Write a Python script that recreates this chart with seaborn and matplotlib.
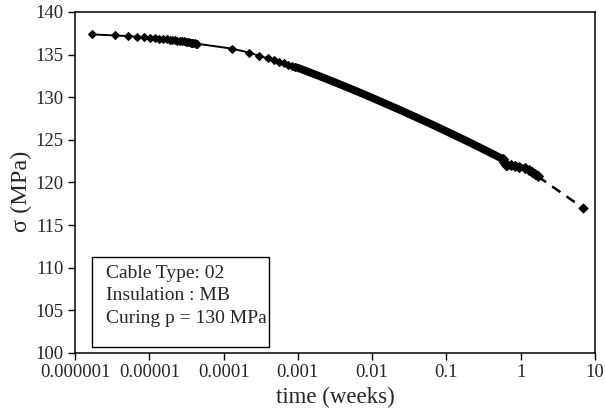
import matplotlib
matplotlib.use("Agg")
import matplotlib.pyplot as plt
import seaborn as sns
import pandas as pd
from matplotlib.ticker import FixedLocator, FixedFormatter, NullLocator
from matplotlib.patches import Rectangle

# early samples (about one per second), time in weeks / stress in MPa
t_early = [1.71e-6, 3.42e-6, 5.13e-6, 6.84e-6, 8.55e-6, 1.03e-5, 1.20e-5, 1.37e-5,
           1.54e-5, 1.71e-5, 1.88e-5, 2.05e-5, 2.22e-5, 2.39e-5, 2.57e-5, 2.74e-5,
           2.91e-5, 3.08e-5, 3.25e-5, 3.42e-5, 3.59e-5, 3.76e-5, 3.93e-5, 4.10e-5,
           4.27e-5, 4.45e-5]
s_early = [137.37, 137.25, 137.17, 137.10, 137.04, 136.98, 136.93, 136.89,
           136.85, 136.81, 136.77, 136.73, 136.69, 136.65, 136.62, 136.58,
           136.55, 136.51, 136.48, 136.45, 136.42, 136.39, 136.36, 136.33,
           136.30, 136.27]

# sparse later samples
t_mid = [1.31e-4, 2.20e-4, 3.02e-4, 3.92e-4, 4.77e-4, 5.65e-4, 6.50e-4, 7.40e-4, 8.30e-4, 9.20e-4]
s_mid = [135.70, 135.24, 134.85, 134.57, 134.34, 134.14, 133.96, 133.80, 133.66, 133.52]

# dense band of samples
t_dense = [9.20e-4, 1.0e-3, 2.0e-3, 3.0e-3, 5.0e-3, 8.4e-3, 0.0237, 0.066, 0.178, 0.30, 0.525, 0.57]
s_dense = [133.52, 133.45, 132.44, 131.83, 131.04, 130.22, 128.51, 126.75, 124.96, 123.99, 122.92, 122.78]

# scatter cluster near 1 week
t_clus = [0.57, 0.60, 0.63, 0.66, 0.74, 0.83, 0.95, 1.13, 1.28, 1.42, 1.56, 1.70]
s_clus = [122.78, 122.35, 122.05, 122.07, 122.00, 121.95, 121.85, 121.71, 121.50, 121.24, 120.98, 120.71]

# extrapolation
t_ext = [1.70, 6.87]
s_ext = [120.71, 117.03]

x_ticks = [1e-6, 1e-5, 1e-4, 1e-3, 1e-2, 1e-1, 1, 10]
x_labels = ["0.000001", "0.00001", "0.0001", "0.001", "0.01", "0.1", "1", "10"]
y_ticks = [100, 105, 110, 115, 120, 125, 130, 135, 140]

box_lines = ["Cable Type: 02", "Insulation : MB", "Curing p = 130 MPa"]

sns.set_style("ticks")
plt.rcParams['font.family'] = ['Liberation Serif', 'DejaVu Serif']

fig = plt.figure(figsize=(6.05, 4.15), dpi=100)
ax = fig.add_axes([75/605, 1-353/415, 520/605, 341/415])

early = pd.DataFrame({"t": t_early + t_mid, "s": s_early + s_mid})
sns.lineplot(data=early, x="t", y="s", ax=ax, sort=False, estimator=None,
             color="black", linewidth=1.4, marker="D", markersize=4.0,
             markeredgecolor="black", markerfacecolor="black")

dense = pd.DataFrame({"t": t_dense, "s": s_dense})
sns.lineplot(data=dense, x="t", y="s", ax=ax, sort=False, estimator=None,
             color="black", linewidth=5.6, solid_capstyle="round", solid_joinstyle="round")

clus = pd.DataFrame({"t": t_clus, "s": s_clus})
sns.lineplot(data=clus, x="t", y="s", ax=ax, sort=False, estimator=None,
             color="black", linewidth=4.5, marker="D", markersize=5.0,
             markeredgecolor="black", markerfacecolor="black", solid_capstyle="round")

ext = pd.DataFrame({"t": t_ext, "s": s_ext})
sns.lineplot(data=ext, x="t", y="s", ax=ax, sort=False, estimator=None,
             color="black", linewidth=1.8, dashes=False, linestyle=(0, (4, 3)))
sns.scatterplot(x=t_ext[1:], y=s_ext[1:], ax=ax, color="black", marker="D", s=24,
                edgecolor="black")

ax.set_xscale("log")
ax.set_xlim(1e-6, 10)
ax.set_ylim(100, 140)
ax.xaxis.set_major_locator(FixedLocator(x_ticks))
ax.xaxis.set_major_formatter(FixedFormatter(x_labels))
ax.xaxis.set_minor_locator(NullLocator())
ax.set_yticks(y_ticks)
ax.tick_params(axis="both", direction="out", length=5, width=1, color="black",
               labelsize=13.5, pad=3)
for sp in ax.spines.values():
    sp.set_visible(True)
    sp.set_color("black")
    sp.set_linewidth(1.1)

ax.set_xlabel("time (weeks)", fontsize=16.5, labelpad=4)
ax.set_ylabel("σ (MPa)", fontsize=17.5, labelpad=1)
ax.yaxis.set_label_coords(-0.083, 0.475)

# annotation box
ax.add_patch(Rectangle((92/605, 1-347/415), (269-92)/605, (347-257)/415,
                       transform=fig.transFigure, fill=False, edgecolor="black",
                       linewidth=1.0, zorder=5))
for i, line in enumerate(box_lines):
    fig.text(106/605, 1-(273 + i*22.5)/415, line, fontsize=14, va="center", ha="left")

fig.savefig("out.png", dpi=100)
